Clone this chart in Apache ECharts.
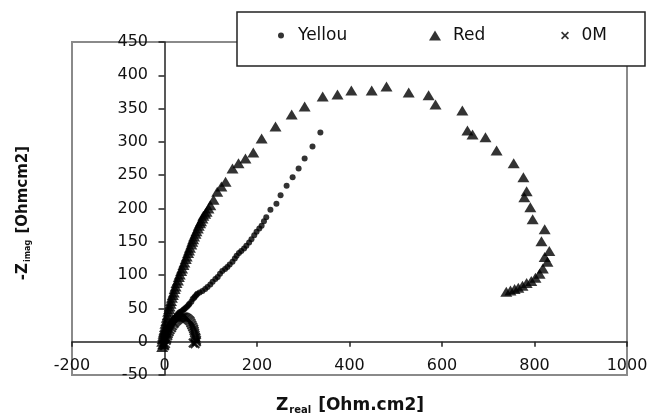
<!DOCTYPE html>
<html>
<head>
<meta charset="utf-8">
<script src="https://cdn.jsdelivr.net/npm/echarts@6/dist/echarts.min.js"></script>
<style>
  html, body { margin: 0; padding: 0; background: #fff; }
  #chart { width: 652px; height: 416px; }
</style>
</head>
<body>
<div id="chart"></div>
<script>
// Nyquist plot: Z_real vs -Z_imag for three electrolytes
const seriesNames = ['Yellou', 'Red', '0M'];

const yellouPoints = [
  [-3,-6],[-2,-2],[0,4],[2,8],[3,12],[5,16],[7,19],[10,23],[12,26],[15,29],[17,31],
  [20,34],[22,36],[25,38],[27,40],[30,42],[32,44],[35,45],[38,46],[41,48],[43,49],
  [46,51],[49,53],[52,55],[54,57],[58,60],[61,64],[64,66],[66,68],[69,70],[71,72],
  [76,74],[82,76],[88,79],[93,82],[99,86],[104,90],[110,94],[115,97],[120,102],
  [125,106],[131,109],[136,112],[141,116],[147,120],[152,125],[156,129],[161,133],
  [166,136],[172,140],[177,144],[183,149],[188,154],[194,160],[199,165],[205,170],
  [210,174],[215,181],[220,187],[229,198],[242,207],[251,220],[264,234],[277,247],
  [290,260],[303,275],[320,293],[337,314]
];

const redPoints = [
  [-5,-8],[-3,-4],[-5,0],[-4,4],[-3,8],[-2,12],[-1,15],[0,18],[1,22],[2,27],[4,31],
  [5,36],[7,40],[8,45],[10,49],[11,53],[13,57],[14,61],[16,66],[18,70],[20,74],
  [22,79],[24,83],[26,88],[29,92],[31,97],[33,101],[36,106],[38,110],[41,115],
  [43,119],[46,124],[48,128],[51,133],[53,137],[55,141],[58,146],[60,150],[62,154],
  [64,158],[67,162],[69,166],[72,170],[74,174],[77,178],[79,181],[82,185],[84,189],
  [88,192],[91,195],[95,200],[99,205],[106,213],[114,225],[123,233],[132,240],
  [147,260],[160,268],[175,275],[192,284],[210,305],[240,323],[275,341],[303,353],
  [342,368],[374,371],[404,377],[448,377],[480,383],[528,374],[571,370],[586,356],
  [644,347],[655,317],[666,311],[694,307],[718,287],[755,268],[776,247],[783,226],
  [778,217],[791,202],[796,184],[822,169],[815,151],[832,136],[822,127],[828,120],
  [818,110],[811,102],[802,96],[793,91],[783,88],[774,84],[765,81],[757,79],
  [748,77],[739,75]
];

const zeroMPoints = [
  [0,-6],[2,-3],[4,2],[5,5],[7,9],[8,12],[10,15],[12,18],[15,21],[17,24],[20,27],
  [22,29],[25,31],[28,33],[31,35],[34,36],[37,37],[40,37],[43,37],[46,36],[49,35],
  [52,33],[55,31],[57,28],[59,25],[61,22],[63,19],[64,16],[65,13],[66,10],[67,7],
  [68,5],[69,2],[69,0],[66,-3],[62,-2]
];

const xTicks = { min: -200, max: 1000, step: 200 };
const yTicks = { min: -50, max: 450, step: 50 };

const FONT = 'DejaVu Sans';
const crossPath = 'path://M0,1.5L1.5,0L5,3.5L8.5,0L10,1.5L6.5,5L10,8.5L8.5,10L5,6.5L1.5,10L0,8.5L3.5,5Z';

const chart = echarts.init(document.getElementById('chart'), null, { renderer: 'canvas' });

function legendAt(name, left, icon, w, h, gap) {
  return {
    data: [{ name: name, icon: icon }],
    left: left, top: 27,
    itemWidth: w, itemHeight: h,
    itemGap: 0, padding: 0,
    z: 120,
    textStyle: { fontFamily: FONT, fontSize: 17, color: '#111', padding: [0, 0, 0, gap] },
    selectedMode: false
  };
}

const plainNumber = function (v) { return String(v); };

chart.setOption({
  backgroundColor: '#fff',
  animation: false,
  grid: {
    left: 72, right: 25, top: 42, bottom: 41,
    show: true, borderColor: '#8a8a8a', borderWidth: 2, backgroundColor: 'transparent'
  },
  legend: [
    legendAt('Yellou', 278, 'circle', 6, 6, 9),
    legendAt('Red', 429, 'triangle', 12, 10, 7),
    legendAt('0M', 561, crossPath, 11, 8, 6)
  ],
  graphic: [
    {
      type: 'rect', z: 100,
      shape: { x: 237, y: 12, width: 408, height: 54 },
      style: { fill: '#fff', stroke: '#222', lineWidth: 1.5 }
    },
    {
      type: 'text', z: 100,
      x: 350, y: 406,
      style: {
        text: '{a|Z}{s|real}{a| [Ohm.cm2]}',
        align: 'center', verticalAlign: 'middle',
        rich: {
          a: { fontFamily: FONT, fontSize: 17, fontWeight: 'bold', fill: '#111' },
          s: { fontFamily: FONT, fontSize: 10, fontWeight: 'bold', fill: '#111', padding: [9, 1, 0, 1] }
        }
      }
    },
    {
      type: 'text', z: 100,
      x: 23, y: 213, rotation: Math.PI / 2,
      style: {
        text: '{a|-Z}{s|imag}{a| [Ohmcm2]}',
        align: 'center', verticalAlign: 'middle',
        rich: {
          a: { fontFamily: FONT, fontSize: 15, fontWeight: 'bold', fill: '#111' },
          s: { fontFamily: FONT, fontSize: 8, fontWeight: 'bold', fill: '#111', padding: [9, 1, 0, 1] }
        }
      }
    }
  ],
  xAxis: {
    type: 'value',
    min: xTicks.min, max: xTicks.max, interval: xTicks.step,
    axisLine: { onZero: true, lineStyle: { color: '#222', width: 1.5 } },
    axisTick: { show: true, inside: false, length: 5, lineStyle: { color: '#222', width: 1.5 } },
    axisLabel: { fontFamily: FONT, fontSize: 16, color: '#111', margin: -17, formatter: plainNumber },
    splitLine: { show: false }
  },
  yAxis: {
    type: 'value',
    min: yTicks.min, max: yTicks.max, interval: yTicks.step,
    axisLine: { onZero: true, lineStyle: { color: '#222', width: 1.5 } },
    axisTick: { show: true, inside: false, length: 6, lineStyle: { color: '#222', width: 1.5 } },
    axisLabel: { fontFamily: FONT, fontSize: 16, color: '#111', margin: -76, formatter: plainNumber },
    splitLine: { show: false }
  },
  series: [
    {
      name: seriesNames[0], type: 'scatter', data: yellouPoints,
      symbol: 'circle', symbolSize: 6,
      itemStyle: { color: '#000' }
    },
    {
      name: seriesNames[1], type: 'scatter', data: redPoints,
      symbol: 'triangle', symbolSize: [12, 10],
      itemStyle: { color: '#000' }
    },
    {
      name: seriesNames[2], type: 'scatter', data: zeroMPoints,
      symbol: crossPath, symbolSize: 10,
      itemStyle: { color: '#000' }
    }
  ]
});
</script>
</body>
</html>
